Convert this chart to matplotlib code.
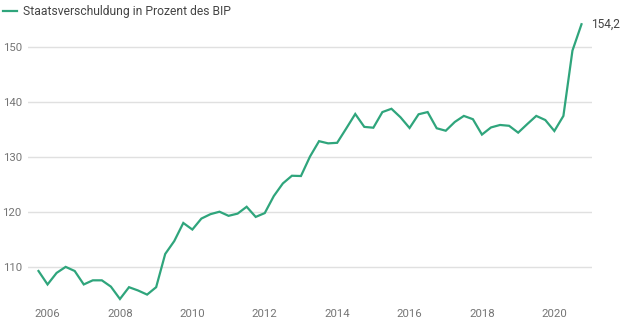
import matplotlib
matplotlib.use("Agg")
import matplotlib.pyplot as plt
import pandas as pd

plt.rcParams["font.family"] = ["Roboto", "DejaVu Sans"]

# Quarterly government debt ratio (% of GDP), 2005Q4 - 2020Q4
quarters = pd.period_range("2005Q4", "2020Q4", freq="Q")
debt_ratio = [
    109.25,
    106.8, 108.9, 110.0, 109.25,
    106.8, 107.55, 107.55, 106.4,
    104.15, 106.3, 105.7, 104.95,
    106.3, 112.35, 114.7, 118.0,
    116.8, 118.8, 119.6, 120.05,
    119.3, 119.7, 120.95, 119.1,
    119.8, 122.9, 125.2, 126.6,
    126.55, 130.1, 132.9, 132.5,
    132.6, 135.2, 137.85, 135.5,
    135.35, 138.2, 138.8, 137.25,
    135.3, 137.8, 138.2, 135.25,
    134.8, 136.4, 137.5, 136.9,
    134.1, 135.4, 135.85, 135.7,
    134.45, 136.0, 137.5, 136.75,
    134.75, 137.5, 149.4, 154.2,
]
series_label = "Staatsverschuldung in Prozent des BIP"
last_label = "154,2"
year_ticks = [2006, 2008, 2010, 2012, 2014, 2016, 2018, 2020]
value_ticks = [110, 120, 130, 140, 150]

x = [p.year + (p.quarter - 1) / 4 for p in quarters]

line_color = "#2fa57c"
label_color = "#757575"
text_color = "#444444"

fig = plt.figure(figsize=(6.24, 3.24), dpi=100)
ax = fig.add_axes([28 / 624, 1 - 303 / 324, (592 - 28) / 624, (303 - 20) / 324])

ax.plot(x, debt_ratio, color=line_color, lw=1.6, solid_joinstyle="miter",
        clip_on=False, zorder=3)

ax.set_xlim(2005.46, 2021.04)
ax.set_ylim(103.42, 154.97)
ax.set_xticks(year_ticks)
ax.set_xticklabels([str(y) for y in year_ticks])
ax.set_yticks(value_ticks)
ax.set_yticklabels([str(v) for v in value_ticks])

ax.grid(axis="y", color="#e0e0e0", lw=1)
ax.set_axisbelow(True)
for s in ax.spines.values():
    s.set_visible(False)
ax.tick_params(axis="both", length=0, labelsize=8.2, labelcolor=label_color)
ax.tick_params(axis="y", pad=4.5)
ax.tick_params(axis="x", pad=4)

# value of the latest observation
ax.annotate(last_label, xy=(x[-1], debt_ratio[-1]), xytext=(7, 0),
            textcoords="offset points", va="center", ha="left",
            fontsize=8.6, color=text_color, annotation_clip=False)

# legend at the top left
fig.lines.append(plt.Line2D([3 / 624, 17 / 624], [1 - 11 / 324, 1 - 11 / 324],
                            transform=fig.transFigure, color=line_color, lw=1.6))
fig.text(23 / 624, 1 - 11 / 324, series_label, fontsize=8.7, color=text_color,
         va="center", ha="left")

fig.savefig("out.png", dpi=100)
